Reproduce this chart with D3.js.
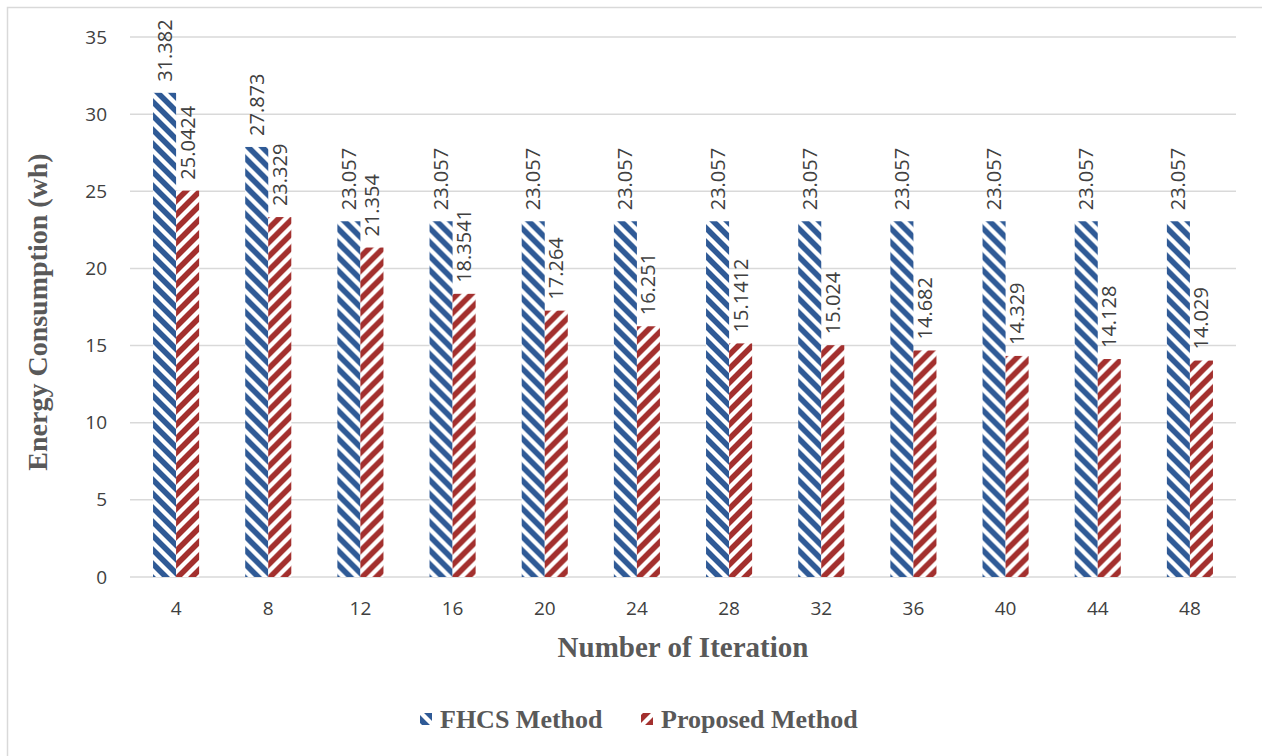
<!DOCTYPE html>
<html>
<head>
<meta charset="utf-8">
<script src="https://cdn.jsdelivr.net/npm/d3@7"></script>
<style>
  html, body { margin: 0; padding: 0; background: #fff; }
  svg { display: block; }
</style>
</head>
<body>
<div id="chart"></div>
<script>
// Energy consumption per iteration count for the two methods
const iterations = ["4", "8", "12", "16", "20", "24", "28", "32", "36", "40", "44", "48"];
const fhcsValues = [31.382, 27.873, 23.057, 23.057, 23.057, 23.057, 23.057, 23.057, 23.057, 23.057, 23.057, 23.057];
const proposedValues = [25.0424, 23.329, 21.354, 18.3541, 17.264, 16.251, 15.1412, 15.024, 14.682, 14.329, 14.128, 14.029];
const seriesNames = ["FHCS Method", "Proposed Method"];
const yTicks = [0, 5, 10, 15, 20, 25, 30, 35];

const W = 1262, H = 756;
const margin = { left: 130, right: 26, top: 37, bottom: 179 };
const plotW = W - margin.left - margin.right;
const plotH = H - margin.top - margin.bottom;

const colors = { "FHCS Method": "#2f5a96", "Proposed Method": "#a3302e" };
const textColor = "#404040";
const titleColor = "#595959";
const gridColor = "#d9d9d9";

const svg = d3.select("#chart").append("svg")
  .attr("width", W).attr("height", H);

// Diagonal hatch fills: "\" for FHCS, "/" for Proposed
const defs = svg.append("defs");
function hatch(id, color, dir) {
  const s = 14;
  const p = defs.append("pattern")
    .attr("id", id)
    .attr("patternUnits", "userSpaceOnUse")
    .attr("width", s).attr("height", s);
  p.append("rect").attr("width", s).attr("height", s).attr("fill", "#fff");
  const d = dir === "back"
    ? `M-3,-3 L${s + 3},${s + 3} M-${s / 2},${s / 2} L${s / 2},${s + s / 2} M${s / 2},-${s / 2} L${s + s / 2},${s / 2}`
    : `M-3,${s + 3} L${s + 3},-3 M-${s / 2},${s / 2} L${s / 2},-${s / 2} M${s / 2},${s + s / 2} L${s + s / 2},${s / 2}`;
  p.append("path").attr("d", d)
    .attr("stroke", color).attr("stroke-width", 5.6).attr("fill", "none");
}
hatch("hatch-fhcs", colors["FHCS Method"], "back");
hatch("hatch-prop", colors["Proposed Method"], "fwd");
const fills = { "FHCS Method": "url(#hatch-fhcs)", "Proposed Method": "url(#hatch-prop)" };

// Chart frame
svg.append("rect")
  .attr("x", 7.5).attr("y", 7.5)
  .attr("width", W).attr("height", H)
  .attr("fill", "none").attr("stroke", gridColor).attr("stroke-width", 1.5);

const g = svg.append("g").attr("transform", `translate(${margin.left},${margin.top})`);

const x0 = d3.scaleBand().domain(iterations).range([0, plotW]).padding(0);
const x1 = d3.scaleBand().domain(seriesNames)
  .range([x0.bandwidth() * 0.25, x0.bandwidth() * 0.75]).padding(0);
const y = d3.scaleLinear().domain([0, 35]).range([plotH, 0]);

// Horizontal gridlines
g.append("g").selectAll("line").data(yTicks).join("line")
  .attr("x1", 0).attr("x2", plotW)
  .attr("y1", d => y(d)).attr("y2", d => y(d))
  .attr("stroke", gridColor).attr("stroke-width", 1.5);

// Y axis labels
const yAxis = g.append("g")
  .call(d3.axisLeft(y).tickValues(yTicks).tickSize(0).tickPadding(23).tickFormat(d3.format("d")));
yAxis.select(".domain").remove();
yAxis.selectAll("text")
  .attr("fill", textColor)
  .style("font-family", "'Open Sans', 'Noto Sans', sans-serif")
  .style("font-size", "19px");

// X axis labels
const xAxis = g.append("g").attr("transform", `translate(0,${plotH})`)
  .call(d3.axisBottom(x0).tickSize(0).tickPadding(25));
xAxis.select(".domain").remove();
xAxis.selectAll("text")
  .attr("fill", textColor)
  .style("font-family", "'Open Sans', 'Noto Sans', sans-serif")
  .style("font-size", "19px");

const rows = iterations.map((it, i) => ({
  it,
  vals: [
    { key: "FHCS Method", v: fhcsValues[i] },
    { key: "Proposed Method", v: proposedValues[i] }
  ]
}));

const groups = g.append("g").selectAll("g").data(rows).join("g")
  .attr("transform", d => `translate(${x0(d.it)},0)`);

groups.selectAll("rect").data(d => d.vals).join("rect")
  .attr("x", d => x1(d.key))
  .attr("y", d => y(d.v))
  .attr("width", x1.bandwidth())
  .attr("height", d => y(0) - y(d.v))
  .attr("fill", d => fills[d.key]);

// Value labels, rotated, above each bar
groups.selectAll("text.val").data(d => d.vals).join("text")
  .attr("class", "val")
  .attr("transform", d => `translate(${x1(d.key) + x1.bandwidth() / 2},${y(d.v) - 11}) rotate(-90)`)
  .attr("dy", "0.35em")
  .attr("text-anchor", "start")
  .attr("fill", textColor)
  .style("font-family", "'Open Sans', 'Noto Sans', sans-serif")
  .style("font-size", "20px")
  .text(d => String(d.v));

// Axis titles
svg.append("text")
  .attr("transform", `translate(37,${margin.top + plotH / 2 + 5}) rotate(-90)`)
  .attr("text-anchor", "middle")
  .attr("dy", "0.35em")
  .attr("fill", titleColor)
  .style("font-family", "'Liberation Serif', 'Times New Roman', serif")
  .style("font-weight", "bold")
  .style("font-size", "28px")
  .text("Energy Consumption (wh)");

svg.append("text")
  .attr("x", margin.left + plotW / 2)
  .attr("y", 657)
  .attr("text-anchor", "middle")
  .attr("fill", titleColor)
  .style("font-family", "'Liberation Serif', 'Times New Roman', serif")
  .style("font-weight", "bold")
  .style("font-size", "29px")
  .text("Number of Iteration");

// Legend
const legendItems = [
  { key: "FHCS Method", x: 420 },
  { key: "Proposed Method", x: 641 }
];
const legend = svg.append("g").selectAll("g").data(legendItems).join("g")
  .attr("transform", d => `translate(${d.x},719)`);
legend.append("rect")
  .attr("x", 0).attr("y", -6).attr("width", 12).attr("height", 12)
  .attr("fill", d => fills[d.key]);
legend.append("text")
  .attr("x", 20).attr("dy", "0.35em")
  .attr("fill", titleColor)
  .style("font-family", "'Liberation Serif', 'Times New Roman', serif")
  .style("font-weight", "bold")
  .style("font-size", "26px")
  .text(d => d.key);
</script>
</body>
</html>
